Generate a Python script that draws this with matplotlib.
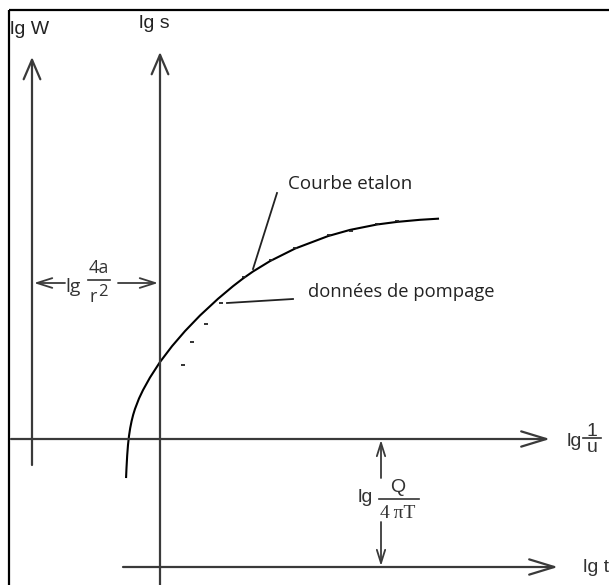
import matplotlib
matplotlib.use("Agg")
import matplotlib.pyplot as plt

# Theis type curve (lg 1/u, lg W) and pumping data (lg t, lg s) in the curve frame
curve_x = [0.941, 0.945, 0.952, 0.96, 0.97, 0.982, 0.996, 1.012, 1.03, 1.07, 1.11,
           1.18, 1.28, 1.40, 1.53, 1.68, 1.86, 2.01, 2.11, 2.21, 2.38, 2.63, 2.96,
           3.18, 3.45, 3.65, 3.88, 4.06]
curve_w = [-0.38, -0.289, -0.163, -0.059, 0.031, 0.109, 0.179, 0.243, 0.301, 0.405,
           0.489, 0.615, 0.77, 0.928, 1.079, 1.235, 1.402, 1.528, 1.605, 1.675, 1.779,
           1.904, 2.029, 2.091, 2.145, 2.171, 2.192, 2.203]
pump_x = [1.51, 1.60, 1.74, 1.89, 2.12, 2.39, 2.63, 2.97, 3.19, 3.45, 3.65]
pump_s = [0.74, 0.97, 1.15, 1.36, 1.62, 1.79, 1.91, 2.04, 2.08, 2.155, 2.18]

# offsets between the two sets of axes
lg_4a_r2 = 1.28     # horizontal shift (lg s axis vs lg W axis)
lg_Q_4piT = 1.28    # vertical shift (lg t axis vs lg 1/u axis)

axis_col = "#3a3a3a"
txt_col = "#333333"
sans = "Liberation Sans"
myriad = "Open Sans"

fig = plt.figure(figsize=(6.09, 5.85), dpi=100)
ax = fig.add_axes([0, 0, 1, 1])
ax.set_xlim(-0.32, 5.77)
ax.set_ylim(-1.46, 4.39)
ax.axis("off")


def arrow(x0, y0, x1, y1, hl, hw, lw=1.6, col=axis_col):
    ax.annotate("", xy=(x1, y1), xytext=(x0, y0),
                arrowprops=dict(arrowstyle="->,head_length=%g,head_width=%g" % (hl, hw),
                                color=col, lw=lw, shrinkA=0, shrinkB=0))


# frame (left and top edges)
ax.plot([-0.23, -0.23], [-1.46, 4.29], color="black", lw=1.6, solid_capstyle="butt")
ax.plot([-0.23, 5.77], [4.29, 4.29], color="black", lw=1.6, solid_capstyle="butt")

# lg W / lg 1/u axes
arrow(0, -0.26, 0, 3.82, 1.4, 0.6)
arrow(-0.21, 0, 5.18, 0, 1.8, 0.55)
# lg s / lg t axes
arrow(lg_4a_r2, -1.46, lg_4a_r2, 3.87, 1.4, 0.6)
arrow(0.91, -lg_Q_4piT, 5.26, -lg_Q_4piT, 1.8, 0.55)

# type curve and pumping data
ax.plot(curve_x, curve_w, color="black", lw=1.5, solid_joinstyle="round")
ax.plot(pump_x, pump_s, ls="none", marker="_", ms=3, mew=1.3, color="#222222")

# horizontal shift lg 4a/r^2
ya = 1.56
arrow(0.33, ya, 0.02, ya, 1.1, 0.35, lw=1.3)
arrow(0.86, ya, lg_4a_r2 - 0.02, ya, 1.1, 0.35, lw=1.3)
ax.text(0.335, ya - 0.035, "lg", fontsize=14, family=myriad, ha="left", va="center",
        color=txt_col)
ax.plot([0.56, 0.78], [ya + 0.03, ya + 0.03], color=txt_col, lw=1.2)
ax.text(0.67, ya + 0.15, "4a", fontsize=13, family=myriad, ha="center", va="center",
        color=txt_col)
ax.text(0.645, ya - 0.135, "r", fontsize=13, family=myriad, ha="right", va="center",
        color=txt_col)
ax.text(0.665, ya - 0.095, "2", fontsize=12, family=myriad, ha="left", va="center",
        color=txt_col)

# vertical shift lg Q/4piT
xq = 3.49
arrow(xq, -0.39, xq, -0.01, 0.95, 0.3, lw=1.3)
arrow(xq, -0.83, xq, -lg_Q_4piT + 0.01, 0.95, 0.3, lw=1.3)
ax.text(3.26, -0.59, "lg", fontsize=14, family=sans, ha="left", va="center",
        color=txt_col)
ax.plot([3.47, 3.87], [-0.595, -0.595], color=txt_col, lw=1.2)
ax.text(3.66, -0.48, "Q", fontsize=14, family=sans, ha="center", va="center",
        color=txt_col)
ax.text(3.66, -0.74, "4\u2009\u03c0T", fontsize=14, family="Liberation Serif",
        ha="center", va="center", color=txt_col)

# axis labels
ax.text(-0.22, 4.10, "lg W", fontsize=14, family=sans, ha="left", va="center",
        color="#222222")
ax.text(1.22, 4.15, "lg s", fontsize=14, family=sans, ha="center", va="center",
        color="#222222")
ax.text(5.35, -0.02, "lg", fontsize=14, family=sans, ha="left", va="center",
        color=txt_col)
ax.plot([5.51, 5.69], [0.01, 0.01], color=txt_col, lw=1.2)
ax.text(5.60, 0.07, "1", fontsize=14, family=sans, ha="center", va="center",
        color=txt_col)
ax.text(5.60, -0.085, "u", fontsize=14, family=sans, ha="center", va="center",
        color=txt_col)
ax.text(5.51, -lg_Q_4piT, "lg t", fontsize=14, family=sans, ha="left", va="center",
        color=txt_col)

# annotations
ax.plot([2.45, 2.21], [2.46, 1.70], color="#222222", lw=1.3)
ax.text(2.56, 2.55, "Courbe etalon", fontsize=13.5, family=myriad, ha="left",
        va="center", color="#222222")
ax.plot([2.61, 1.95], [1.40, 1.36], color="#222222", lw=1.3)
ax.text(2.76, 1.47, "données de pompage", fontsize=13.2, family=myriad, ha="left",
        va="center", color="#222222")

fig.savefig("out.png", dpi=100)
